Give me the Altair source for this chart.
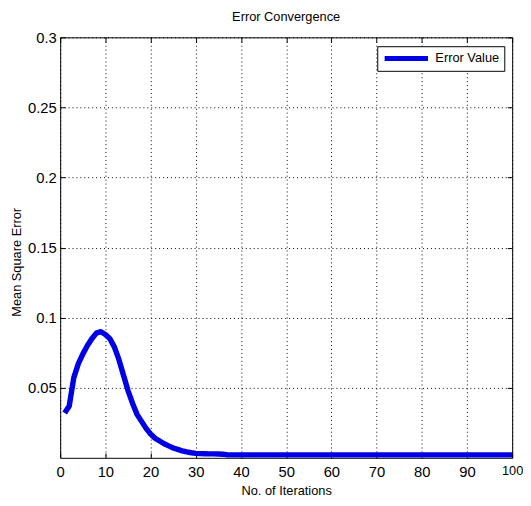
import altair as alt
import pandas as pd

FONT = "Liberation Sans"
FS_TICK = 15
FS_TEXT = 13

iterations = list(range(1, 101))
mse = [
    0.032, 0.037, 0.057, 0.067, 0.074, 0.080, 0.085, 0.089, 0.090, 0.088,
    0.085, 0.079, 0.070, 0.059, 0.048, 0.039, 0.031, 0.026, 0.021, 0.017,
    0.014, 0.012, 0.010, 0.0085, 0.0070, 0.0060, 0.0050, 0.0042, 0.0036, 0.0032,
    0.0030, 0.0029, 0.0028, 0.0028, 0.0027, 0.0026, 0.0021, 0.0021, 0.0021, 0.0021,
    0.0021, 0.0021, 0.0021, 0.0021, 0.0021, 0.0021, 0.0021, 0.0021, 0.0021, 0.0021,
    0.0021, 0.0021, 0.0021, 0.0021, 0.0021, 0.0021, 0.0021, 0.0021, 0.0021, 0.0021,
    0.0021, 0.0021, 0.0021, 0.0021, 0.0021, 0.0021, 0.0021, 0.0021, 0.0021, 0.0021,
    0.0021, 0.0021, 0.0021, 0.0021, 0.0021, 0.0021, 0.0021, 0.0021, 0.0021, 0.0021,
    0.0021, 0.0021, 0.0021, 0.0021, 0.0021, 0.0021, 0.0021, 0.0021, 0.0021, 0.0021,
    0.0021, 0.0021, 0.0021, 0.0021, 0.0021, 0.0021, 0.0021, 0.0021, 0.0021, 0.0021,
]
series_name = "Error Value"
x_ticks = [0, 10, 20, 30, 40, 50, 60, 70, 80, 90, 100]
y_ticks = [0.05, 0.1, 0.15, 0.2, 0.25, 0.3]

df = pd.DataFrame({"iter": iterations, "mse": mse, "series": series_name})

xscale = alt.Scale(domain=[0, 100], nice=False, zero=False)
yscale = alt.Scale(domain=[0, 0.3], nice=False)

grid_style = dict(grid=True, gridDash=[1, 3], gridColor="black", gridOpacity=1, gridWidth=1)
label_style = dict(labelFont=FONT, labelColor="black",
                   labelFlush=False, labelOverlap=False)
title_style = dict(titleFont=FONT, titleFontSize=FS_TEXT, titleFontWeight="normal",
                   titleColor="black")

last_x = "datum.value >= 100"

main = alt.Chart(df).mark_line(strokeWidth=5.5, strokeJoin="round").encode(
    x=alt.X("iter:Q", scale=xscale,
            axis=alt.Axis(values=x_ticks, orient="bottom", ticks=False, tickSize=0,
                          domain=False, labelPadding=7,
                          labelFontSize={"condition": {"test": last_x, "value": 13},
                                         "value": FS_TICK},
                          title="No. of Iterations",
                          titleY=37, titleBaseline="alphabetic",
                          **grid_style, **label_style, **title_style)),
    y=alt.Y("mse:Q", scale=yscale,
            axis=alt.Axis(values=y_ticks, format="~g", orient="left", ticks=False,
                          tickSize=0, domain=False, labelPadding=4, labelFontSize=FS_TICK,
                          title="Mean Square Error", titleX=-40, titleY=228,
                          titleAngle=270, titleBaseline="alphabetic", titleAlign="center",
                          **grid_style, **label_style, **title_style)),
    color=alt.Color("series:N", scale=alt.Scale(range=["#0000e6"]),
                    legend=alt.Legend(title=None, orient="none", legendX=322, legendY=9,
                                      fillColor="white", strokeColor="black", padding=5,
                                      symbolType="stroke", symbolStrokeWidth=5,
                                      symbolSize=1936, clipHeight=15,
                                      labelFont=FONT, labelFontSize=FS_TEXT,
                                      labelColor="black", labelOffset=5, cornerRadius=0)),
)

tick_common = dict(ticks=True, tickSize=5, tickColor="black", tickWidth=1, labels=False,
                   domain=False, grid=False, title=None, offset=-5)

ticks_tr = alt.Chart(df).mark_line(strokeOpacity=0).encode(
    x=alt.X("iter:Q", scale=xscale, axis=alt.Axis(values=x_ticks, orient="top", **tick_common)),
    y=alt.Y("mse:Q", scale=yscale, axis=alt.Axis(values=y_ticks, orient="right", **tick_common)),
)
ticks_bl = alt.Chart(df).mark_line(strokeOpacity=0).encode(
    x=alt.X("iter:Q", scale=xscale, axis=alt.Axis(values=x_ticks, orient="bottom", **tick_common)),
    y=alt.Y("mse:Q", scale=yscale, axis=alt.Axis(values=y_ticks, orient="left", **tick_common)),
)

chart = alt.layer(main, ticks_tr, ticks_bl).resolve_axis(
    x="independent", y="independent"
).properties(
    width=459, height=427,
    title=alt.TitleParams("Error Convergence", font=FONT, fontSize=FS_TEXT, fontWeight="normal",
                          color="black", offset=7, anchor="middle", frame="group"),
    autosize=alt.AutoSizeParams(type="none"),
    padding={"left": 53, "top": 26, "right": 11, "bottom": 37},
).configure(background="white").configure_view(stroke="black", strokeWidth=1)

chart.save("out.html", embed_options={"renderer": "svg", "actions": False})
